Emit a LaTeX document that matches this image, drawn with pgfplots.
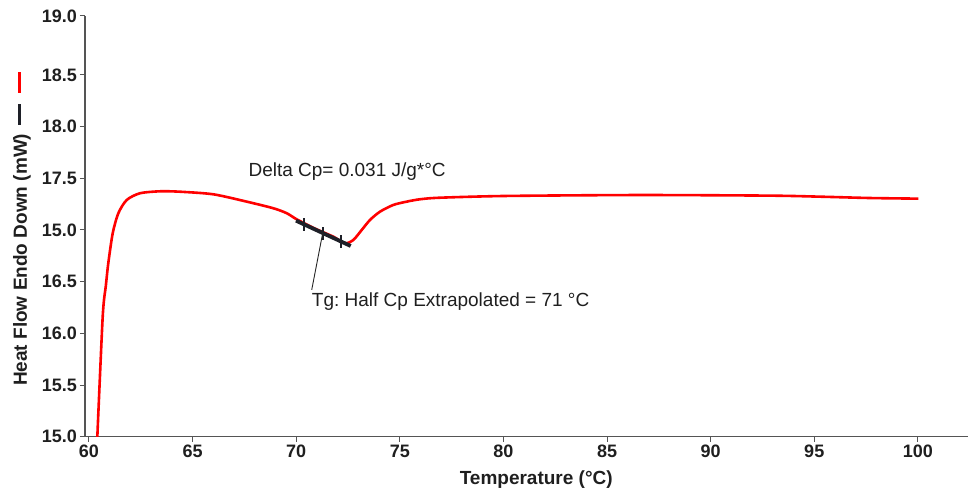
\documentclass[border=0pt]{standalone}
\usepackage{pgfplots}
\pgfplotsset{compat=1.18}
\usepackage{fontspec}
\setmainfont{Liberation Sans}
\definecolor{axgray}{HTML}{555555}
\definecolor{tanblack}{HTML}{1E2028}
\definecolor{curvered}{HTML}{FF0000}
\begin{document}
\frenchspacing
\begin{tikzpicture}
\path[use as bounding box] (0,0) rectangle (969pt,494pt);
\begin{axis}[
  at={(85pt,57.3pt)}, anchor=south west,
  scale only axis, width=883pt, height=420.7pt,
  xmin=59.807, xmax=102.42, ymin=15.0, ymax=19.07,
  axis x line=bottom, axis y line=left,
  axis line style={-, axgray, line width=1.2pt},
  xtick={60,65,70,75,80,85,90,95,100},
  xticklabels={60,65,70,75,80,85,90,95,100},
  ytick={15,15.5,16,16.5,17,17.5,18,18.5,19.07},
  yticklabels={15.0,15.5,16.0,16.5,15.0,17.5,18.0,18.5,19.0},
  tick align=outside, major tick length=5pt,
  tick style={axgray, line width=1pt},
  ticklabel style={font=\fontsize{18}{20}\selectfont\bfseries, text=black!88, inner sep=3pt},
  xlabel={Temperature (°C)},
  ylabel={Heat Flow Endo Down (mW)\hspace{9pt}{\color{tanblack}\rule[6pt]{21pt}{3pt}}\hspace{11pt}{\color{red}\rule[6pt]{21pt}{3pt}}},
  label style={font=\fontsize{19}{22}\selectfont\bfseries, text=black!88},
  xlabel style={at={(axis description cs:0.511,0)}, anchor=center, yshift=-43pt},
  ylabel style={at={(axis description cs:-0.0713,0.494)}, anchor=center, rotate=0},
  clip=true,
]
\addplot[curvered, line width=2.6pt, smooth, tension=0.45] coordinates {
(60.385,14.92) (60.661,16.16) (60.813,16.46) (60.931,16.678) (61.144,16.968)
(61.414,17.161) (61.82,17.29) (62.461,17.355) (63.427,17.374) (64.392,17.370)
(65.999,17.345) (67.611,17.274) (68.895,17.210) (69.542,17.162) (70.024,17.103)
(70.898,17.014) (71.810,16.933) (72.355,16.871) (72.756,16.903) (73.161,17.0)
(73.562,17.097) (74.044,17.177) (74.686,17.242) (75.333,17.274) (75.975,17.297)
(76.940,17.312) (80.159,17.329) (86.583,17.338) (92.867,17.332) (95.280,17.322)
(97.693,17.309) (100.024,17.303)
};
% tangent segment with tick marks
\addplot[tanblack, line width=3.8pt] coordinates {(69.99,17.09) (72.63,16.845)};
\addplot[tanblack, line width=2pt] coordinates {(70.37,16.992) (70.37,17.118)};
\addplot[tanblack, line width=2pt] coordinates {(71.28,16.907) (71.28,17.033)};
\addplot[tanblack, line width=2pt] coordinates {(72.16,16.826) (72.16,16.952)};
% leader line
\addplot[black!85, line width=0.9pt] coordinates {(71.28,16.971) (70.748,16.42)};
\node[anchor=base west, inner sep=0, font=\fontsize{19}{22}\selectfont, text=black!88] at (axis cs:67.69,17.515) {Delta Cp= 0.031 J/g*°C};
\node[anchor=base west, inner sep=0, font=\fontsize{19}{22}\selectfont, text=black!88] at (axis cs:70.748,16.258) {Tg: Half Cp Extrapolated = 71 °C};
\end{axis}
\end{tikzpicture}
\end{document}
